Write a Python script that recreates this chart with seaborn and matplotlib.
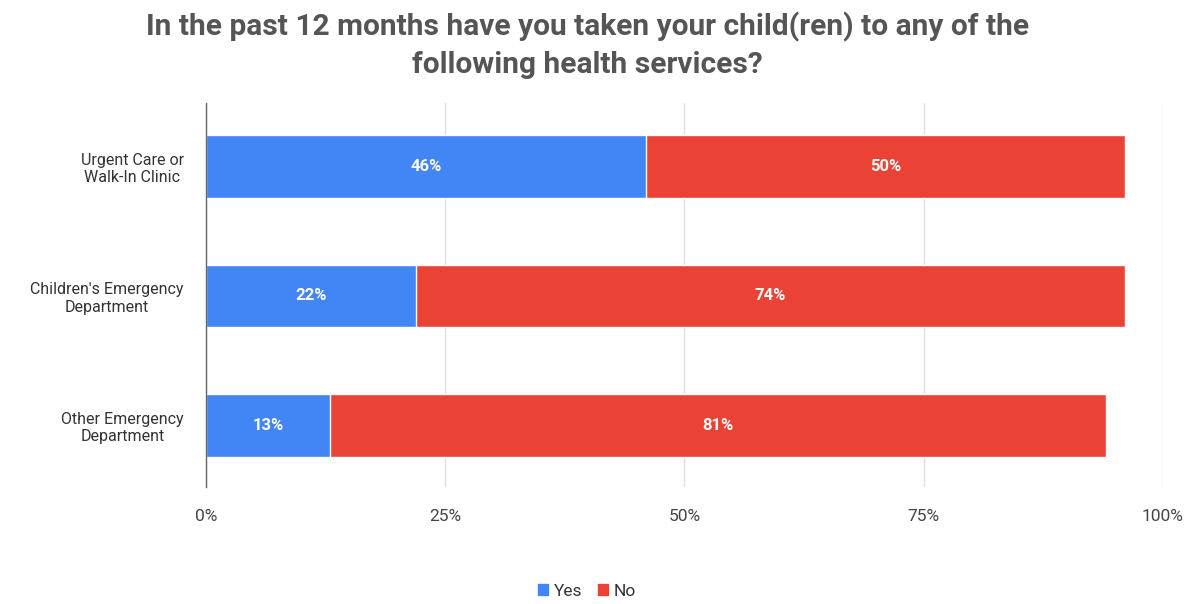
import pandas as pd
import seaborn as sns
import matplotlib.pyplot as plt
from matplotlib.patches import Patch

# Data
services = ["Urgent Care or\nWalk-In Clinic",
            "Children's Emergency\nDepartment",
            "Other Emergency\nDepartment"]
yes = [46, 22, 13]
no = [50, 74, 81]

blue = "#4285F4"
red = "#EA4335"

sns.set_theme(style="white")
plt.rcParams['font.family'] = ['Roboto', 'DejaVu Sans']

df = pd.DataFrame({"service": services, "yes": yes, "no": no})
df["total"] = df["yes"] + df["no"]

fig = plt.figure(figsize=(11.96, 6.04), dpi=100)
ax = fig.add_axes([0.1722, 0.1937, 0.8002, 0.6358])

# Stacked: draw totals (red) then yes (blue) on top
sns.barplot(data=df, y="service", x="total", orient="h", color=red,
            width=0.48, saturation=1, ax=ax, zorder=3)
sns.barplot(data=df, y="service", x="yes", orient="h", color=blue,
            width=0.48, saturation=1, ax=ax, zorder=4)

# Labels inside segments
for i, (y_, n_) in enumerate(zip(yes, no)):
    ax.text(y_ / 2, i, f"{y_}%", ha="center", va="center",
            color="white", fontsize=12, fontweight="bold", zorder=5)
    ax.text(y_ + n_ / 2, i, f"{n_}%", ha="center", va="center",
            color="white", fontsize=12, fontweight="bold", zorder=5)

ax.set_xlim(0, 100)
ax.set_ylim(2.475, -0.49)
ax.set_xticks([0, 25, 50, 75, 100])
ax.set_xticklabels(["0%", "25%", "50%", "75%", "100%"])
ax.tick_params(axis="x", colors="#444444", labelsize=12.5, length=6,
               width=0.8, pad=10, color="#dddddd")
ax.tick_params(axis="y", colors="#333333", labelsize=11.5, length=0, pad=16)
for lab in ax.get_yticklabels():
    lab.set_multialignment("center")
ax.grid(axis="x", color="#e0e0e0", linewidth=1, zorder=0)
for s in ["top", "right", "bottom"]:
    ax.spines[s].set_visible(False)
ax.spines["left"].set_color("#666666")
ax.spines["left"].set_linewidth(1)
ax.spines["left"].set_zorder(6)
ax.set_xlabel("")
ax.set_ylabel("")

fig.suptitle("In the past 12 months have you taken your child(ren) to any of the\nfollowing health services?",
             x=0.491, y=0.98, fontsize=21.5, fontweight="bold", color="#555555",
             linespacing=1.4)

handles = [Patch(color=blue, label="Yes"), Patch(color=red, label="No")]
fig.legend(handles=handles, loc="center", bbox_to_anchor=(0.491, 0.021),
           ncol=2, frameon=False, fontsize=12.5, handlelength=0.55,
           handleheight=0.55, handletextpad=0.35, columnspacing=0.9,
           labelcolor="#333333")

fig.savefig("out.png", dpi=100)
